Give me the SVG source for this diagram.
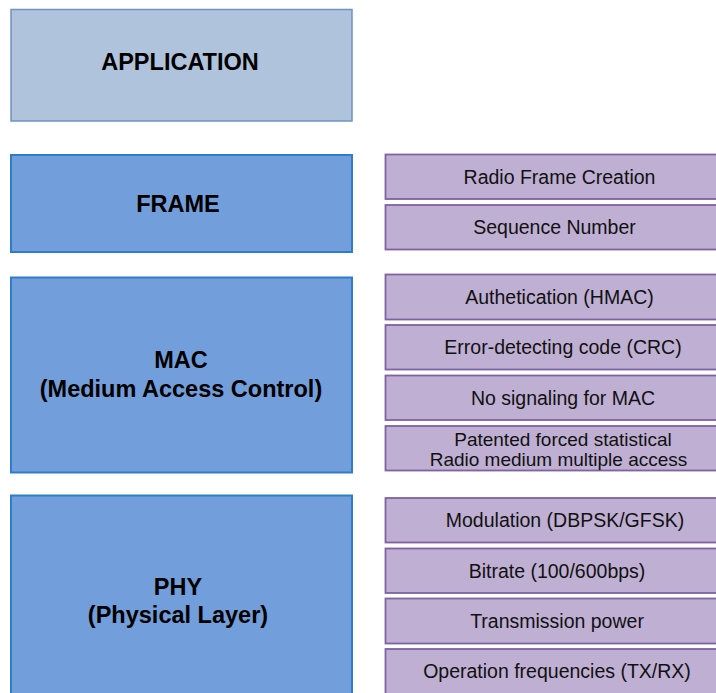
<svg xmlns="http://www.w3.org/2000/svg" width="716" height="693" viewBox="0 0 716 693">
<style>
.app{fill:#B0C3DC;stroke:#6E93C4;stroke-width:1.5}
.layer{fill:#729EDB;stroke:#2F7DC8;stroke-width:2}
.item{fill:#BFAFD3;stroke:#7F62A1;stroke-width:1.8}
.title{font-family:"Liberation Sans",Arial,sans-serif;font-weight:bold;font-size:23.5px;fill:#000;text-anchor:middle}
.lbl{font-family:"Liberation Sans",Arial,sans-serif;font-size:19.5px;fill:#111;text-anchor:middle}
.tight{font-size:19px}
</style>
<rect width="716" height="693" fill="#fff"/>
<g id="application"><rect class="app" x="11" y="9.5" width="341" height="111.5"/><text class="title" x="180" y="70">APPLICATION</text></g>
<g id="frame"><rect class="layer" x="11" y="155" width="341" height="97"/><text class="title" x="178" y="212">FRAME</text></g>
<g id="mac"><rect class="layer" x="11" y="277.5" width="341" height="195"/><text class="title" x="181" y="368">MAC</text><text class="title" x="181" y="397">(Medium Access Control)</text></g>
<g id="phy"><rect class="layer" x="11" y="495.5" width="341" height="210"/><text class="title" x="178" y="595">PHY</text><text class="title" x="178" y="623">(Physical Layer)</text></g>
<g id="rfc"><rect class="item" x="385.5" y="154.5" width="350" height="44.5"/><text class="lbl" x="559.5" y="183.5">Radio Frame Creation</text></g>
<g id="seq"><rect class="item" x="385.5" y="205" width="350" height="44.5"/><text class="lbl" x="554.5" y="234">Sequence Number</text></g>
<g id="auth"><rect class="item" x="385.5" y="274.5" width="350" height="45"/><text class="lbl" x="559.5" y="304">Authetication (HMAC)</text></g>
<g id="crc"><rect class="item" x="385.5" y="325" width="350" height="44.5"/><text class="lbl" x="563" y="354">Error-detecting code (CRC)</text></g>
<g id="nosig"><rect class="item" x="385.5" y="375.5" width="350" height="44.5"/><text class="lbl" x="563" y="404.5">No signaling for MAC</text></g>
<g id="patented"><rect class="item" x="385.5" y="426" width="350" height="44.5"/><text class="lbl tight" x="563" y="445.5">Patented forced statistical</text><text class="lbl tight" x="558.5" y="466">Radio medium multiple access</text></g>
<g id="modulation"><rect class="item" x="385.5" y="498" width="350" height="44.5"/><text class="lbl" x="565" y="527">Modulation (DBPSK/GFSK)</text></g>
<g id="bitrate"><rect class="item" x="385.5" y="548.5" width="350" height="44.5"/><text class="lbl" x="557" y="578">Bitrate (100/600bps)</text></g>
<g id="power"><rect class="item" x="385.5" y="598.5" width="350" height="45"/><text class="lbl" x="557" y="628">Transmission power</text></g>
<g id="freq"><rect class="item" x="385.5" y="649" width="350" height="50"/><text class="lbl" x="557" y="678">Operation frequencies (TX/RX)</text></g>
<g id="connectors"></g>
</svg>
